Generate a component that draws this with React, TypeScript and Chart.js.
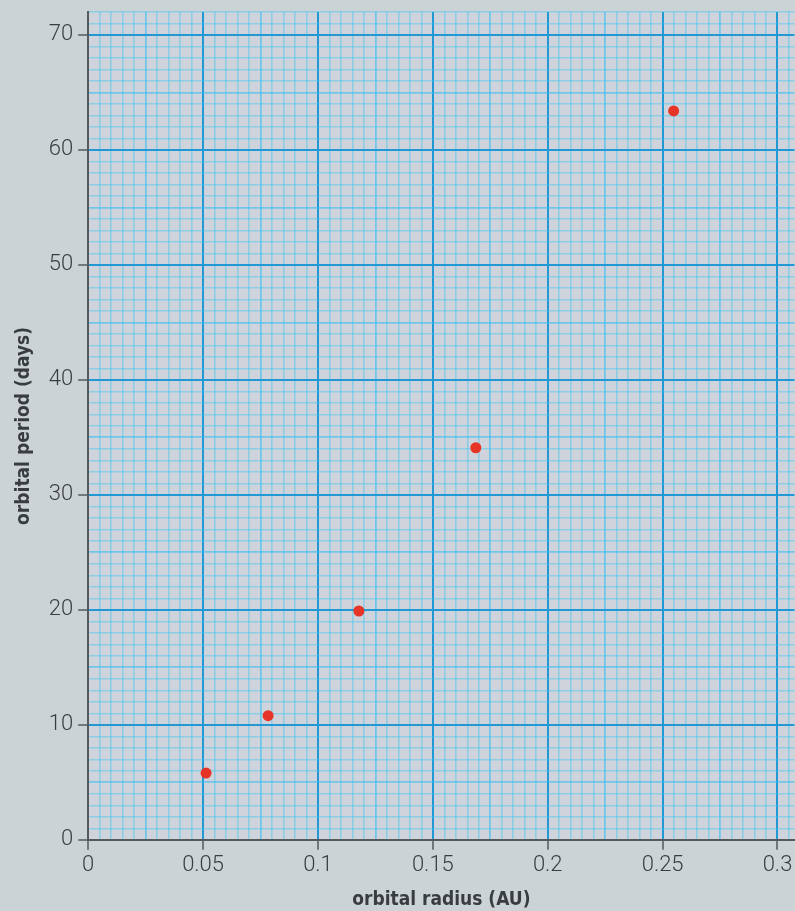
import React, { useEffect, useRef } from "react";
import { Chart, registerables } from "chart.js";

Chart.register(...registerables);

const radiusAU = [0.0513, 0.0783, 0.1178, 0.1687, 0.2548];
const periodDays = [5.8, 10.8, 19.9, 34.1, 63.4];
const xTickValues = [0, 0.05, 0.1, 0.15, 0.2, 0.25, 0.3];
const yTickValues = [0, 10, 20, 30, 40, 50, 60, 70];
const xTitle = "orbital radius (AU)";
const yTitle = "orbital period (days)";

const X_MAX = 0.3074;
const Y_MAX = 72;
const X_MINOR = 0.005;
const Y_MINOR = 1;

const BG = "#ccd3d6";
const PLOT_BG = "#cfd3db";
const MAJOR = "#2299d4";
const MID = "rgba(50,188,240,0.6)";
const MINOR = "rgba(60,200,245,0.45)";
const AXIS = "#55595c";
const TEXT = "#3a3d3f";

const near = (a: number, b: number) => Math.abs(a - b) < 1e-6;
const isIn = (v: number, arr: number[]) => arr.some((t) => near(t, v));
const isMultiple = (v: number, step: number) => near(Math.round(v / step) * step, v);

const rangeTicks = (step: number, max: number) => {
  const out: { value: number }[] = [];
  const n = Math.floor(max / step + 1e-9);
  for (let i = 0; i <= n; i++) out.push({ value: +(i * step).toFixed(6) });
  return out;
};

const plotBg = {
  id: "plotBg",
  beforeDraw(chart: any) {
    const { ctx, chartArea } = chart;
    if (!chartArea) return;
    ctx.save();
    ctx.fillStyle = PLOT_BG;
    ctx.fillRect(chartArea.left, chartArea.top, chartArea.right - chartArea.left, chartArea.bottom - chartArea.top);
    ctx.restore();
  },
};

export default function App() {
  const ref = useRef<HTMLCanvasElement>(null);
  useEffect(() => {
    if (!ref.current) return;
    const tickFont = { family: "Roboto, 'Liberation Sans', sans-serif", size: 22, weight: 300 as any };
    const titleFont = { family: "'Liberation Sans Narrow', 'DejaVu Sans Condensed', sans-serif", size: 19, weight: "bold" as any };
    const gridColor = (major: number[], midStep: number) => (ctx: any) => {
      const v = ctx.tick ? ctx.tick.value : 0;
      if (isIn(v, major)) return MAJOR;
      if (isMultiple(v, midStep)) return MID;
      return MINOR;
    };
    const gridWidth = (major: number[], midStep: number) => (ctx: any) => {
      const v = ctx.tick ? ctx.tick.value : 0;
      if (isIn(v, major)) return 2;
      if (isMultiple(v, midStep)) return 1.8;
      return 1.6;
    };
    const tickColor = (major: number[]) => (ctx: any) => {
      const v = ctx.tick ? ctx.tick.value : 0;
      return isIn(v, major) ? AXIS : "rgba(0,0,0,0)";
    };
    const chart = new Chart(ref.current, {
      type: "scatter",
      data: {
        datasets: [
          {
            data: radiusAU.map((x, i) => ({ x, y: periodDays[i] })),
            backgroundColor: "#e63526",
            borderWidth: 0,
            pointRadius: 5.5,
          },
        ],
      },
      plugins: [plotBg],
      options: {
        animation: false,
        responsive: true,
        maintainAspectRatio: false,
        layout: { padding: { top: 12, right: 0, bottom: 0, left: 4 } },
        plugins: { legend: { display: false }, tooltip: { enabled: false } },
        scales: {
          x: {
            type: "linear",
            position: "bottom",
            min: 0,
            max: X_MAX,
            afterBuildTicks: (s: any) => {
              s.ticks = rangeTicks(X_MINOR, X_MAX);
            },
            ticks: {
              color: TEXT,
              font: tickFont,
              padding: 2,
              maxRotation: 0,
              autoSkip: false,
              callback: (v: any) => (isIn(Number(v), xTickValues) ? String(parseFloat(Number(v).toFixed(3))) : ""),
            },
            border: { color: AXIS, width: 2 },
            grid: {
              color: gridColor(xTickValues, 0.025),
              lineWidth: gridWidth(xTickValues, 0.025),
              tickColor: tickColor(xTickValues),
              tickLength: 10,
              tickWidth: 1.5,
            },
            title: { display: true, text: xTitle, color: TEXT, font: titleFont, padding: { top: 8, bottom: 0 } },
          },
          y: {
            type: "linear",
            position: "left",
            min: 0,
            max: Y_MAX,
            afterBuildTicks: (s: any) => {
              s.ticks = rangeTicks(Y_MINOR, Y_MAX);
            },
            afterFit: (s: any) => {
              s.paddingTop = 0;
            },
            ticks: {
              color: TEXT,
              font: tickFont,
              padding: 5,
              autoSkip: false,
              callback: (v: any) => (isIn(Number(v), yTickValues) ? String(v) : ""),
            },
            border: { color: AXIS, width: 2 },
            grid: {
              color: gridColor(yTickValues, 5),
              lineWidth: gridWidth(yTickValues, 5),
              tickColor: tickColor(yTickValues),
              tickLength: 10,
              tickWidth: 1.5,
            },
            title: { display: true, text: yTitle, color: TEXT, font: titleFont, padding: { top: 9, bottom: 8 } },
          },
        },
      } as any,
    });
    return () => chart.destroy();
  }, []);
  return (
    <div style={{ position: "absolute", left: 0, top: 0, width: 795, height: 911, background: BG, overflow: "hidden" }}>
      <div style={{ position: "relative", width: 800, height: 911 }}>
        <canvas ref={ref} />
      </div>
    </div>
  );
}
